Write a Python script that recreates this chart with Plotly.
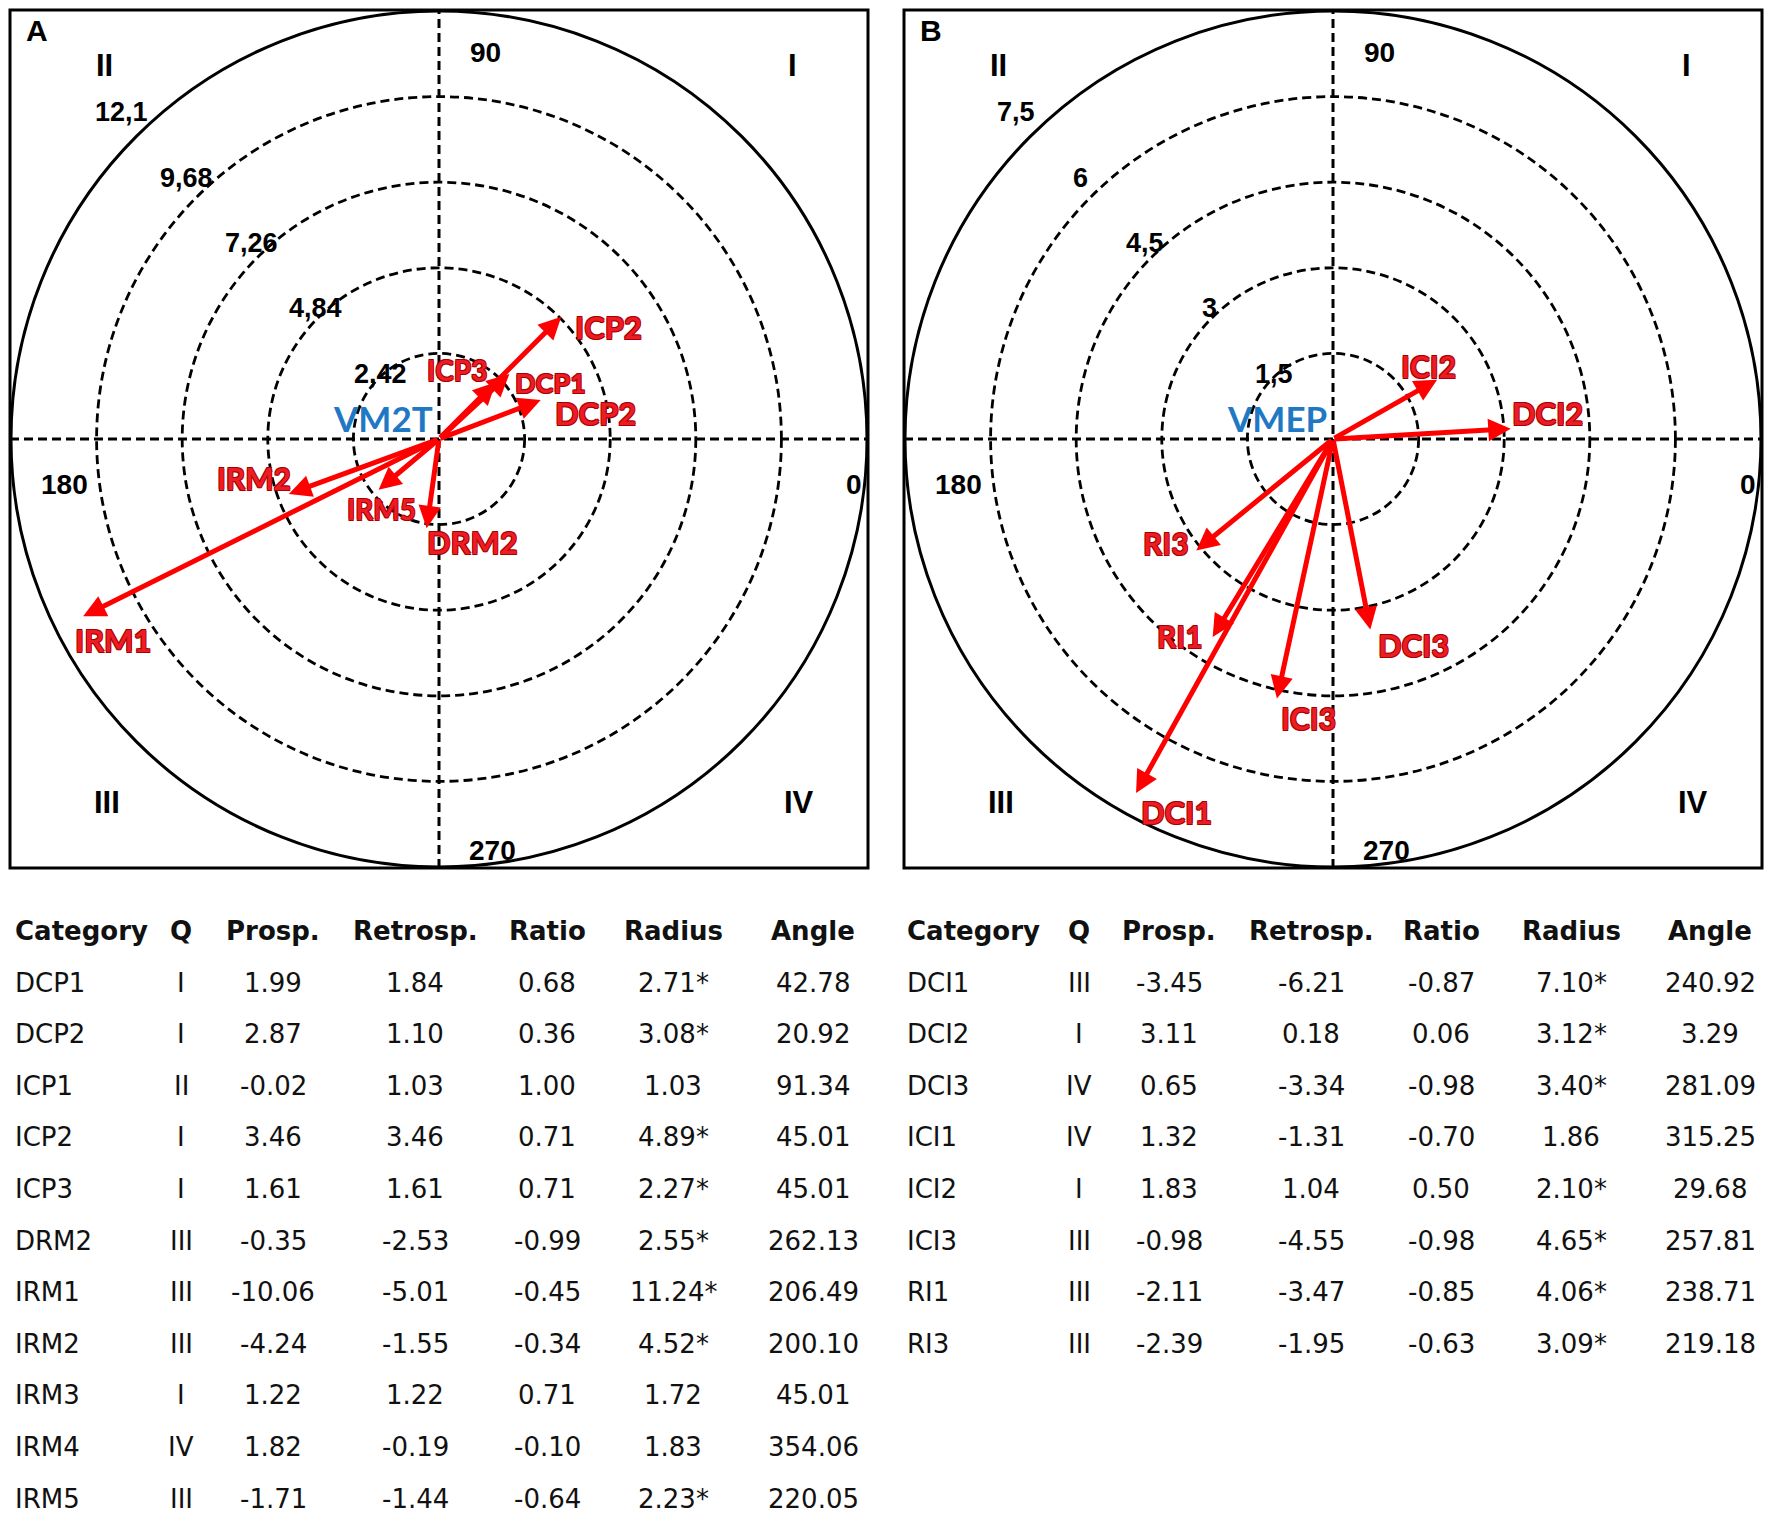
import math
import plotly.graph_objects as go

W, H = 1772, 1535          # browser window
PAGE_MARGIN = 8            # default body margin of the html page
FW, FH = W - 2 * PAGE_MARGIN, H - 2 * PAGE_MARGIN   # figure size

# ---------------- data : panel A ----------------
cat_A = ["DCP1", "DCP2", "ICP1", "ICP2", "ICP3", "DRM2", "IRM1", "IRM2", "IRM3", "IRM4", "IRM5"]
q_A = ["I", "I", "II", "I", "I", "III", "III", "III", "I", "IV", "III"]
prosp_A = [1.99, 2.87, -0.02, 3.46, 1.61, -0.35, -10.06, -4.24, 1.22, 1.82, -1.71]
retro_A = [1.84, 1.10, 1.03, 3.46, 1.61, -2.53, -5.01, -1.55, 1.22, -0.19, -1.44]
ratio_A = [0.68, 0.36, 1.00, 0.71, 0.71, -0.99, -0.45, -0.34, 0.71, -0.10, -0.64]
radius_A = [2.71, 3.08, 1.03, 4.89, 2.27, 2.55, 11.24, 4.52, 1.72, 1.83, 2.23]
sig_A = [True, True, False, True, True, True, True, True, False, False, True]
angle_A = [42.78, 20.92, 91.34, 45.01, 45.01, 262.13, 206.49, 200.10, 45.01, 354.06, 220.05]
rings_A = [2.42, 4.84, 7.26, 9.68, 12.1]
ring_labels_A = ["2,42", "4,84", "7,26", "9,68", "12,1"]
center_label_A = "VM2T"

# ---------------- data : panel B ----------------
cat_B = ["DCI1", "DCI2", "DCI3", "ICI1", "ICI2", "ICI3", "RI1", "RI3"]
q_B = ["III", "I", "IV", "IV", "I", "III", "III", "III"]
prosp_B = [-3.45, 3.11, 0.65, 1.32, 1.83, -0.98, -2.11, -2.39]
retro_B = [-6.21, 0.18, -3.34, -1.31, 1.04, -4.55, -3.47, -1.95]
ratio_B = [-0.87, 0.06, -0.98, -0.70, 0.50, -0.98, -0.85, -0.63]
radius_B = [7.10, 3.12, 3.40, 1.86, 2.10, 4.65, 4.06, 3.09]
sig_B = [True, True, True, False, True, True, True, True]
angle_B = [240.92, 3.29, 281.09, 315.25, 29.68, 257.81, 238.71, 219.18]
rings_B = [1.5, 3, 4.5, 6, 7.5]
ring_labels_B = ["1,5", "3", "4,5", "6", "7,5"]
center_label_B = "VMEP"

angle_ticks = ["0", "90", "180", "270"]
quadrants = ["I", "II", "III", "IV"]
headers = ["Category", "Q", "Prosp.", "Retrosp.", "Ratio", "Radius", "Angle"]

# ---------------- style / layout ----------------
RED = "#ff0000"
LBL_RED = "#ec1c24"
OUTLINE = "#a80000"
BLUE = "#1f78c4"
NARROW = "Liberation Sans Narrow, Arial Narrow, Liberation Sans, sans-serif"
LABEL_FONT = "Lato, Open Sans, sans-serif"
TABLE_FONT = "DejaVu Sans, sans-serif"
OUTER_PX = 428.0          # outer circle radius in px
HALF_PX = 429.0           # half box size in px
BOX_TOP, BOX_BOT = 10, 868
PANELS = [
    dict(xd=(10, 868), cx=439),
    dict(xd=(904, 1762), cx=1333),
]


def px_x(p):
    return (p - PAGE_MARGIN) / FW


def px_y(p):
    return 1 - (p - PAGE_MARGIN) / FH


shadow = ", ".join(f"{a}px {b}px 0 {OUTLINE}" for a, b in
                   [(-0.8, -0.8), (0.8, -0.8), (-0.8, 0.8), (0.8, 0.8)])

# label offsets (px right, px down, font size) from arrow tip
label_off = {
    "ICP2": (47, 10, 31), "ICP3": (-39, -12, 28), "DCP1": (41, 9, 27), "DCP2": (55, 13, 31),
    "IRM2": (-35, -16, 30), "IRM5": (3, 19, 28), "DRM2": (46, 14, 31), "IRM1": (30, 24, 31),
    "ICI2": (-9, -14, 30), "DCI2": (37, -16, 31), "DCI3": (43, 16, 31), "ICI3": (32, 20, 30),
    "RI1": (-33, -1, 30), "RI3": (-30, -7, 30), "DCI1": (40, 19, 31),
}
# angle tick label positions, px offsets from centre (right, down)
tick_off = {"0": (415, 45), "90": (46, -386), "180": (-375, 45), "270": (53, 411)}
quad_off = {"I": (353, -373), "II": (-335, -373), "III": (-332, 363), "IV": (360, 363)}

fig = go.Figure()
shapes = []
annotations = []

panel_data = [
    ("A", rings_A, ring_labels_A, cat_A, radius_A, angle_A, sig_A, center_label_A),
    ("B", rings_B, ring_labels_B, cat_B, radius_B, angle_B, sig_B, center_label_B),
]

for i, (tag, rings, rlabels, cats, rads, angs, sigs, clabel) in enumerate(panel_data):
    P = PANELS[i]
    xa = "x" if i == 0 else "x2"
    ya = "y" if i == 0 else "y2"
    R = rings[-1]
    upp = R / OUTER_PX                     # data units per pixel
    lim = HALF_PX * upp
    ax_key = "xaxis" if i == 0 else "xaxis2"
    ay_key = "yaxis" if i == 0 else "yaxis2"
    fig.update_layout(**{
        ax_key: dict(domain=[px_x(P["xd"][0]), px_x(P["xd"][1])], range=[-lim, lim], visible=False,
                     showgrid=False, zeroline=False, fixedrange=True, anchor=ya),
        ay_key: dict(domain=[px_y(BOX_BOT), px_y(BOX_TOP)], range=[-lim, lim], visible=False,
                     showgrid=False, zeroline=False, fixedrange=True, anchor=xa),
    })
    fig.add_trace(go.Scatter(x=[0], y=[0], xaxis=xa, yaxis=ya, mode="markers",
                             marker=dict(size=1, color="rgba(0,0,0,0)"), showlegend=False,
                             hoverinfo="skip"))
    # rings
    for k, r in enumerate(rings):
        outer = k == len(rings) - 1
        shapes.append(dict(type="circle", xref=xa, yref=ya, x0=-r, x1=r, y0=-r, y1=r,
                           line=dict(color="black", width=3 if outer else 2.8,
                                     dash="solid" if outer else "9px,5px"), layer="below"))
    # axes cross
    shapes.append(dict(type="line", xref=xa + " domain", yref=ya, x0=0, x1=1, y0=0, y1=0,
                       line=dict(color="black", width=3, dash="9px,5px"), layer="below"))
    shapes.append(dict(type="line", xref=xa, yref=ya + " domain", x0=0, x1=0, y0=0, y1=1,
                       line=dict(color="black", width=3, dash="9px,5px"), layer="below"))
    # frame
    shapes.append(dict(type="rect", xref=xa + " domain", yref=ya + " domain", x0=0, x1=1, y0=0, y1=1,
                       line=dict(color="black", width=3), layer="above"))
    # ring labels
    for r, lab in zip(rings, rlabels):
        rp = r / upp
        annotations.append(dict(xref=xa, yref=ya, x=(-0.755 * rp + 6) * upp, y=(0.763 * rp) * upp,
                                text=lab, showarrow=False, xanchor="center", yanchor="middle",
                                font=dict(family=NARROW, size=27, color="black", weight="bold")))
    # angle ticks and quadrants
    for t in angle_ticks:
        dx, dy = tick_off[t]
        annotations.append(dict(xref=xa, yref=ya, x=dx * upp, y=-dy * upp, text=t, showarrow=False,
                                xanchor="center", yanchor="middle",
                                font=dict(family=NARROW, size=28, color="black", weight="bold")))
    for qd in quadrants:
        dx, dy = quad_off[qd]
        annotations.append(dict(xref=xa, yref=ya, x=dx * upp, y=-dy * upp, text=qd, showarrow=False,
                                xanchor="center", yanchor="middle",
                                font=dict(family=NARROW, size=31, color="black", weight="bold")))
    # panel letter
    annotations.append(dict(xref=xa + " domain", yref=ya + " domain", x=27 / 858, y=1 - 21 / 858,
                            text=tag, showarrow=False, xanchor="center", yanchor="middle",
                            font=dict(family="Liberation Sans, Arial, sans-serif", size=30,
                                      color="black", weight="bold")))
    # centre label
    annotations.append(dict(xref=xa, yref=ya, x=-56 * upp, y=21 * upp, text=clabel, showarrow=False,
                            xanchor="center", yanchor="middle",
                            font=dict(family=LABEL_FONT, size=35, color=BLUE, weight="bold")))
    # arrows + labels (significant categories only)
    for c, r, a, s in zip(cats, rads, angs, sigs):
        if not s:
            continue
        th = math.radians(a)
        x, y = r * math.cos(th), r * math.sin(th)
        annotations.append(dict(xref=xa, yref=ya, axref=xa, ayref=ya, x=x, y=y, ax=0, ay=0, text="",
                                showarrow=True, arrowhead=2, arrowsize=0.9, arrowwidth=5,
                                arrowcolor=RED, standoff=0, startstandoff=0))
        dx, dy, fs = label_off[c]
        annotations.append(dict(xref=xa, yref=ya, x=x, y=y, xshift=dx, yshift=-dy, text=c,
                                showarrow=False, xanchor="center", yanchor="middle",
                                font=dict(family=LABEL_FONT, size=fs, color=LBL_RED, weight="bold",
                                          shadow=shadow)))

# ---------------- tables ----------------
ROW0 = 931
ROW_STEP = 51.6
tables = [
    dict(cols=[cat_A, q_A, prosp_A, retro_A, ratio_A, radius_A, angle_A], sig=sig_A,
         xs=[13, 181, 273, 415, 547, 673, 813]),
    dict(cols=[cat_B, q_B, prosp_B, retro_B, ratio_B, radius_B, angle_B], sig=sig_B,
         xs=[905, 1079, 1169, 1311, 1441, 1571, 1710]),
]


def fmt(v):
    return f"{v:.2f}"


for T in tables:
    xs = T["xs"]
    for j, h in enumerate(headers):
        annotations.append(dict(xref="paper", yref="paper", x=px_x(xs[j]), y=px_y(ROW0), text=h,
                                showarrow=False, xanchor="left" if j == 0 else "center",
                                yanchor="middle",
                                font=dict(family=TABLE_FONT, size=26, color="#111111", weight="bold")))
    nrows = len(T["cols"][0])
    for r in range(nrows):
        yy = px_y(ROW0 + (r + 1) * ROW_STEP)
        vals = [
            T["cols"][0][r],
            T["cols"][1][r],
            fmt(T["cols"][2][r]),
            fmt(T["cols"][3][r]),
            fmt(T["cols"][4][r]),
            fmt(T["cols"][5][r]) + ("*" if T["sig"][r] else ""),
            fmt(T["cols"][6][r]),
        ]
        for j, v in enumerate(vals):
            annotations.append(dict(xref="paper", yref="paper", x=px_x(xs[j]), y=yy, text=v,
                                    showarrow=False, xanchor="left" if j == 0 else "center",
                                    yanchor="middle",
                                    font=dict(family=TABLE_FONT, size=26, color="#111111")))

fig.update_layout(width=FW, height=FH, autosize=False, margin=dict(l=0, r=0, t=0, b=0),
                  paper_bgcolor="white", plot_bgcolor="white", showlegend=False,
                  shapes=shapes, annotations=annotations)

fig.write_html("out.html")
